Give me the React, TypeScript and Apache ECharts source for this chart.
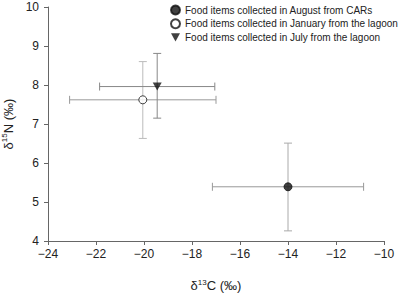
import React, { useEffect, useRef } from "react";
import * as echarts from "echarts";

const groups = [
  "Food items collected in August from CARs",
  "Food items collected in January from the lagoon",
  "Food items collected in July from the lagoon",
];
const d13C = [-14.0, -20.05, -19.45];
const d15N = [5.39, 7.62, 7.96];
const d13CLow = [-17.15, -23.1, -21.85];
const d13CHigh = [-10.85, -17.0, -17.05];
const d15NLow = [4.26, 6.63, 7.15];
const d15NHigh = [6.51, 8.6, 8.81];
const xTicks = [-24, -22, -20, -18, -16, -14, -12, -10];
const yTicks = [4, 5, 6, 7, 8, 9, 10];

const symbols = ["circle", "circle", "path://M0,0 L10,0 L5,9 Z"];
const fills = ["#111", "#fff", "#111"];
const hColors = ["#999", "#999", "#888"];
const vColors = ["#aaa", "#bbb", "#888"];

const FONT = "'Liberation Sans', Arial, Helvetica, sans-serif";

export default function App() {
  const ref = useRef<HTMLDivElement>(null);
  useEffect(() => {
    if (!ref.current) return;
    const chart = echarts.init(ref.current, null, { renderer: "svg" });
    const errData = groups.map((_, i) => [
      d13C[i],
      d15N[i],
      d13CLow[i],
      d13CHigh[i],
      d15NLow[i],
      d15NHigh[i],
      i,
    ]);
    const rich = {
      a: { fontSize: 13, color: "#222", fontFamily: FONT, lineHeight: 14, verticalAlign: "bottom" },
      sup: { fontSize: 8, color: "#222", fontFamily: FONT, lineHeight: 14, verticalAlign: "top" },
    };
    const option: any = {
      animation: false,
      textStyle: { fontFamily: FONT },
      grid: { left: 48, right: 18, top: 7, bottom: 52, outerBoundsMode: "none", containLabel: false },
      legend: {
        orient: "vertical",
        left: 165,
        top: -1,
        itemGap: 1.7,
        itemWidth: 9,
        itemHeight: 9,
        textStyle: { fontSize: 10, lineHeight: 12, color: "#222", fontFamily: FONT },
        data: groups,
      },
      xAxis: {
        type: "value",
        min: xTicks[0],
        max: xTicks[xTicks.length - 1],
        interval: 2,
        name: "{a|δ}{sup|13}{a|C (‰)}",
        nameLocation: "middle",
        nameGap: 37,
        nameTextStyle: { rich },
        axisLine: { onZero: false, lineStyle: { color: "#666", width: 1 } },
        axisTick: { show: true, length: 4, lineStyle: { color: "#666" } },
        axisLabel: {
          fontSize: 12,
          color: "#222",
          margin: 7,
          formatter: (v: number) => (v < 0 ? "\u2212" + Math.abs(v) : String(v)),
        },
        splitLine: { show: false },
      },
      yAxis: {
        type: "value",
        min: yTicks[0],
        max: yTicks[yTicks.length - 1],
        interval: 1,
        name: "{a|δ}{sup|15}{a|N (‰)}",
        nameLocation: "middle",
        nameGap: 27,
        nameTextStyle: { rich },
        axisLine: { onZero: false, lineStyle: { color: "#666", width: 1 } },
        axisTick: { show: true, length: 4, lineStyle: { color: "#666" } },
        axisLabel: { fontSize: 12, color: "#222", margin: 9 },
        splitLine: { show: false },
      },
      series: [
        {
          type: "custom",
          name: "errors",
          z: 1,
          silent: true,
          data: errData,
          encode: { x: 0, y: 1 },
          renderItem: (params: any, api: any) => {
            const cx = api.value(0);
            const cy = api.value(1);
            const xl = api.value(2);
            const xh = api.value(3);
            const yl = api.value(4);
            const yh = api.value(5);
            const idx = api.value(6);
            const pL = api.coord([xl, cy]);
            const pH = api.coord([xh, cy]);
            const pB = api.coord([cx, yl]);
            const pT = api.coord([cx, yh]);
            const hs = { stroke: hColors[idx], lineWidth: 1 };
            const vs = { stroke: vColors[idx], lineWidth: 1 };
            const cap = 4;
            return {
              type: "group",
              children: [
                { type: "line", shape: { x1: pL[0], y1: pL[1], x2: pH[0], y2: pH[1] }, style: hs },
                { type: "line", shape: { x1: pL[0], y1: pL[1] - cap, x2: pL[0], y2: pL[1] + cap }, style: hs },
                { type: "line", shape: { x1: pH[0], y1: pH[1] - cap, x2: pH[0], y2: pH[1] + cap }, style: hs },
                { type: "line", shape: { x1: pB[0], y1: pB[1], x2: pT[0], y2: pT[1] }, style: vs },
                { type: "line", shape: { x1: pB[0] - cap, y1: pB[1], x2: pB[0] + cap, y2: pB[1] }, style: vs },
                { type: "line", shape: { x1: pT[0] - cap, y1: pT[1], x2: pT[0] + cap, y2: pT[1] }, style: vs },
              ],
            };
          },
        },
        ...groups.map((g, i) => ({
          type: "scatter",
          name: g,
          z: 3,
          symbol: symbols[i],
          symbolSize: i === 2 ? [9, 8] : 8,
          itemStyle: { color: fills[i], borderColor: "#111", borderWidth: i === 2 ? 0 : 1 },
          data: [[d13C[i], d15N[i]]],
        })),
      ],
    };
    chart.setOption(option);
    return () => chart.dispose();
  }, []);
  return (
    <div
      ref={ref}
      style={{ position: "fixed", left: 0, top: 0, width: 402, height: 293, background: "#fff" }}
    />
  );
}
